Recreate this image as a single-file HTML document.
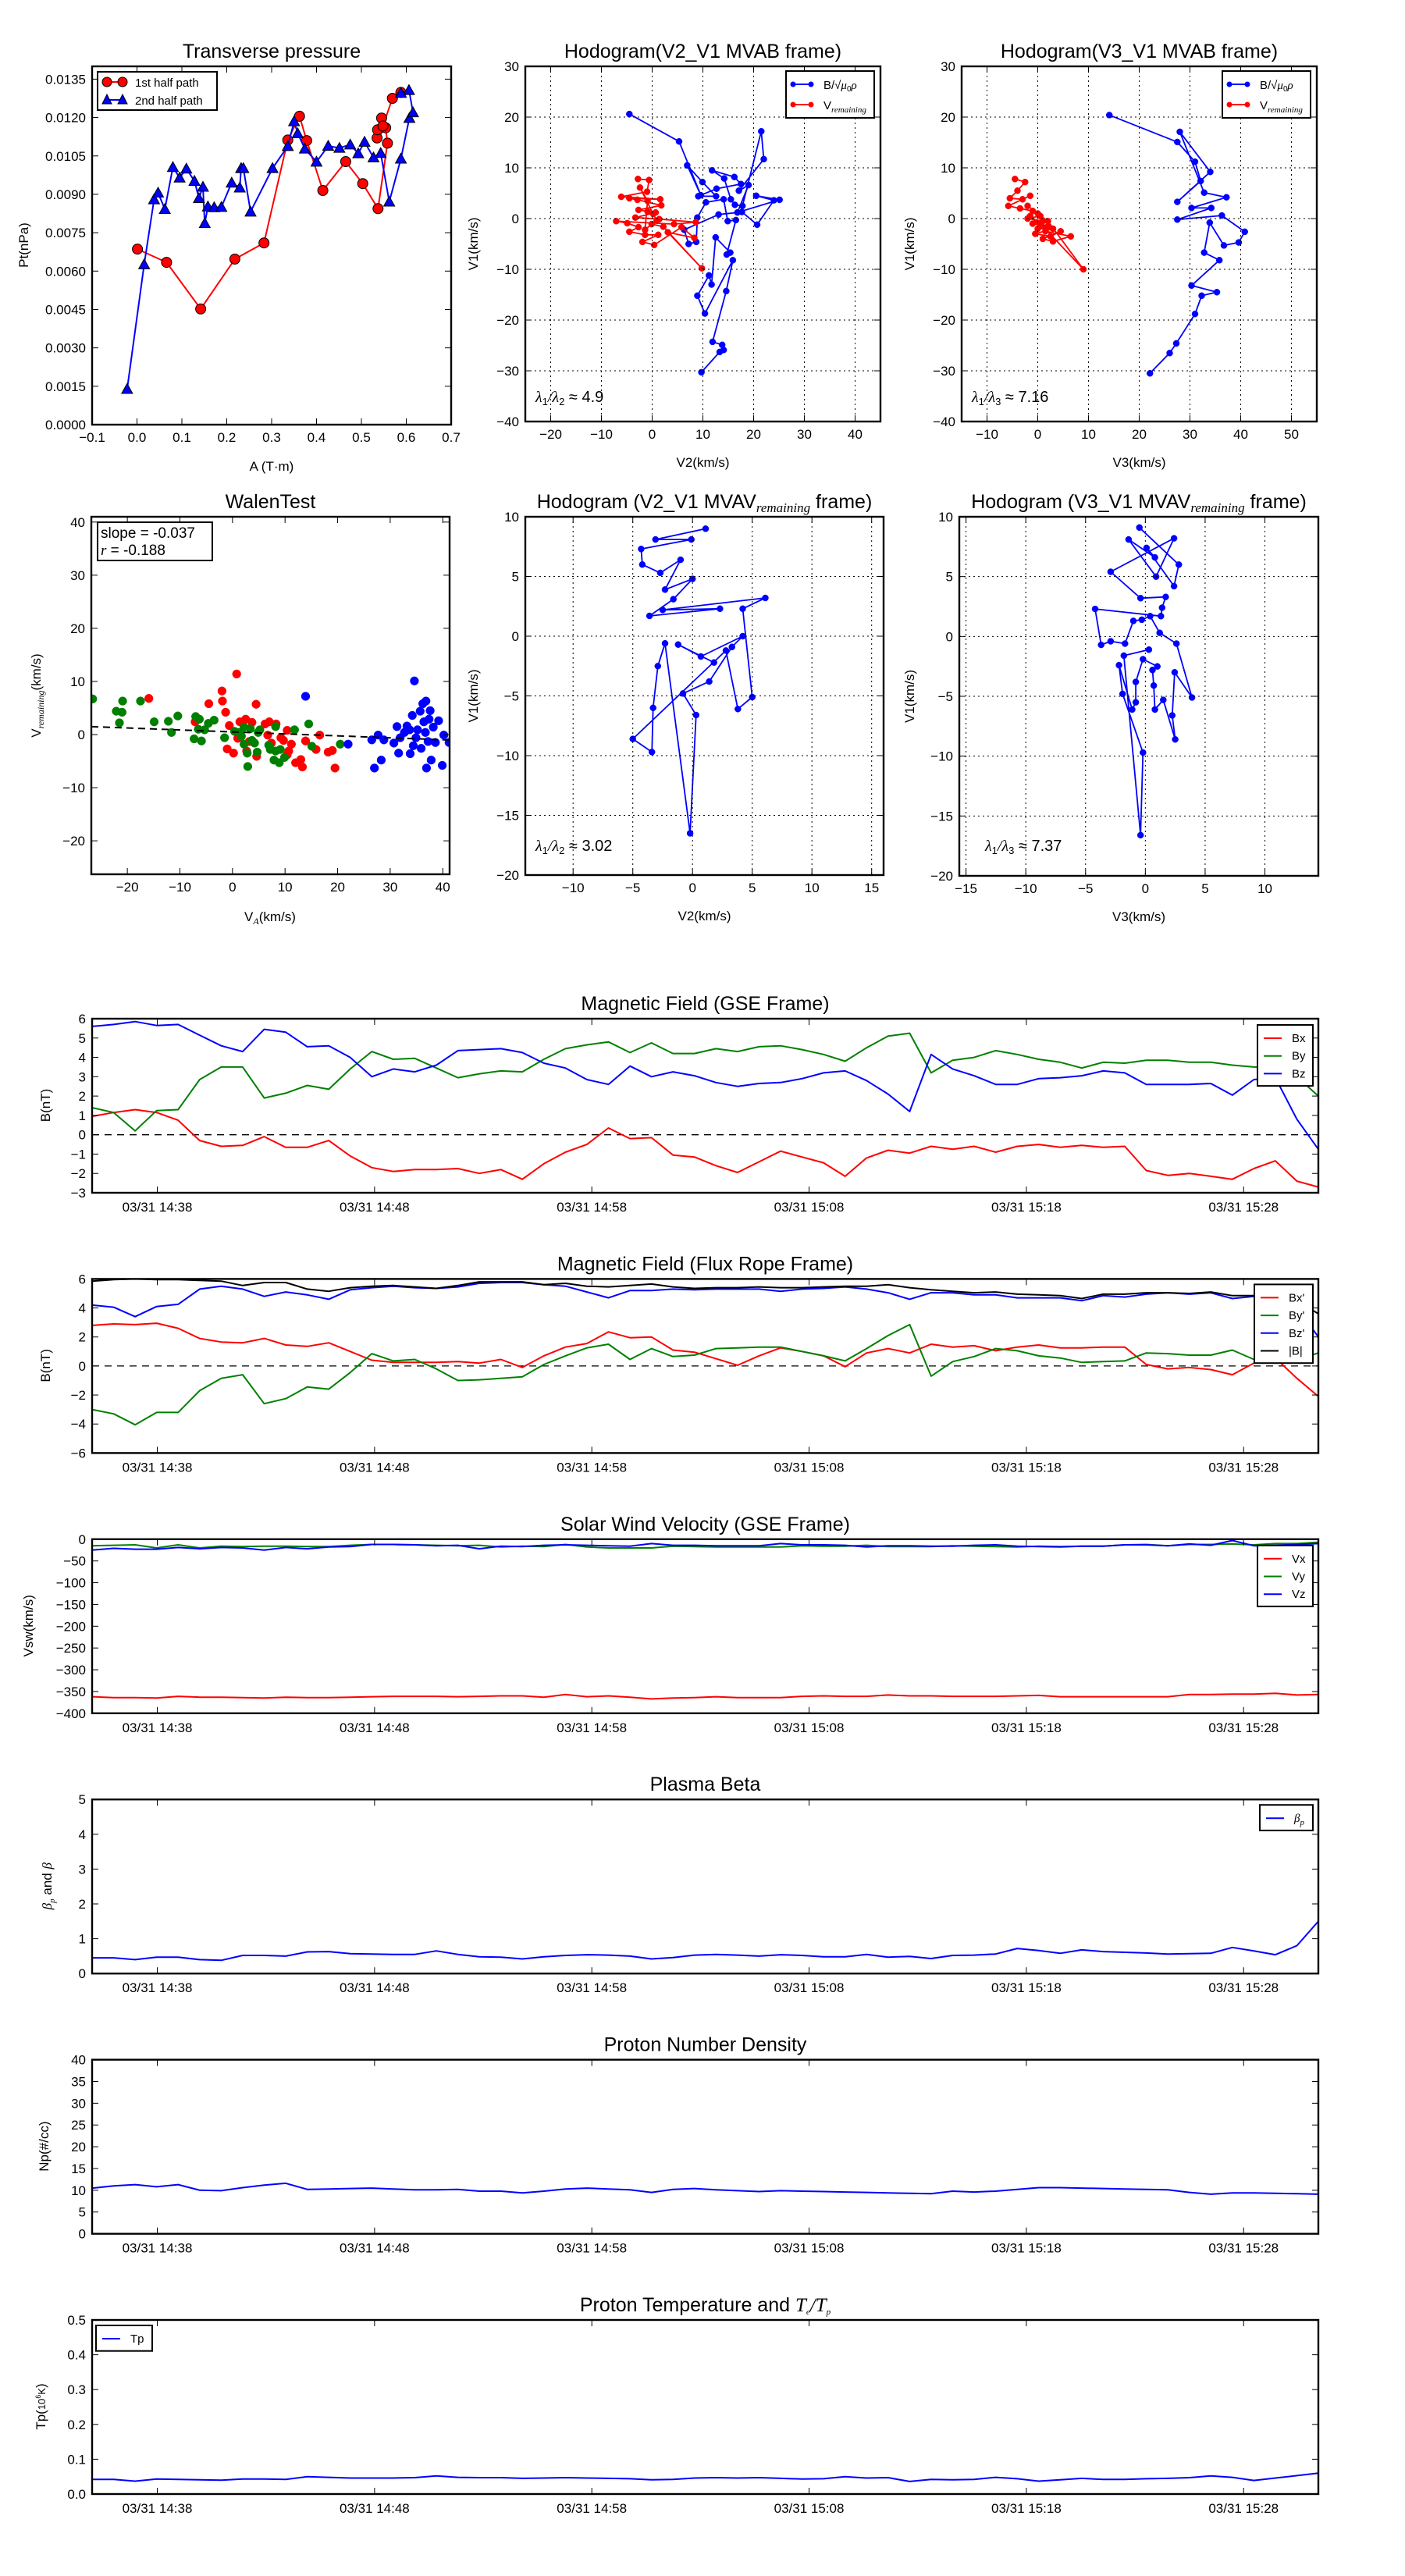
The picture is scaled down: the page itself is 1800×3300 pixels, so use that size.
<!DOCTYPE html>
<html><head><meta charset="utf-8"><title>Flux rope analysis</title>
<style>
html,body{margin:0;padding:0;background:#fff;}
svg{display:block;font-family:"Liberation Sans","DejaVu Sans",sans-serif;}
</style></head>
<body>
<svg id="fig" xmlns="http://www.w3.org/2000/svg" width="1800" height="3300" viewBox="0 0 1800 3300"><defs id="defs"></defs><rect x="0" y="0" width="1800" height="3300" fill="#fff"/></svg>
<script>
// ---------- Transverse pressure data ----------
const tp1A=[0.001,0.066,0.142,0.218,0.283,0.336,0.362,0.378,0.414,0.465,0.503,0.537,0.558,0.554,0.535,0.536,0.545,0.548,0.569,0.588];
const tp1P=[0.00686,0.00634,0.00452,0.00647,0.0071,0.01112,0.01205,0.0111,0.00915,0.01028,0.00942,0.00844,0.0110,0.0116,0.0112,0.01152,0.01198,0.01167,0.01275,0.01298];
const tp2A=[-0.022,0.016,0.038,0.047,0.062,0.080,0.095,0.110,0.128,0.138,0.147,0.151,0.158,0.172,0.188,0.211,0.229,0.232,0.237,0.253,0.302,0.336,0.350,0.358,0.374,0.400,0.426,0.451,0.475,0.493,0.507,0.527,0.543,0.562,0.588,0.607,0.615,0.606,0.588];
const tp2P=[0.00139,0.00626,0.0088,0.00906,0.00842,0.01006,0.00965,0.0100,0.00952,0.00885,0.00929,0.00787,0.00852,0.00849,0.0085,0.00945,0.00926,0.01002,0.01002,0.00832,0.01002,0.01088,0.01185,0.01138,0.01078,0.01027,0.01089,0.01081,0.01094,0.0106,0.01105,0.01044,0.01061,0.00871,0.01039,0.01198,0.0122,0.01307,0.01296];
const tpXTicks=[-0.1,0,0.1,0.2,0.3,0.4,0.5,0.6,0.7];
const tpYTicks=[0,0.0015,0.003,0.0045,0.006,0.0075,0.009,0.0105,0.012,0.0135];

// ---------- Hodogram MVAB (V2-V1) ----------
const h1BV2=[-4.5,5.3,9.6,6.9,9.9,12.6,9.1,12.7,17.5,16.2,11.8,14.2,15.5,16.3,17.8,21.5,22,17.1,19,16.8,25.1,20.5,24,20.7,17.7,13.1,6.3,7.2,8.7,8.9,10.6,14.1,14.9,16.5,14.7,15.4,12.5,11.7,11.2,8.9,10.4,15.9,14.6,11.9,13.8,14.1,13.3,9.7];
const h1BV1=[20.6,15.2,4.6,10.5,7.2,4.4,4.4,5.9,6.8,8.2,9.5,7.9,3.8,2.7,2.5,17.2,11.7,5.5,6.6,1.2,3.7,4.5,3.6,-1.2,1.3,0.8,-2.2,-5,-4.6,0.2,3.2,3.8,-0.5,-0.3,-7.1,-6.7,-3.7,-13,-11.2,-15.2,-18.7,-8.2,-14.3,-24.3,-24.9,-25.9,-26.3,-30.3];
const h1VV2=[-2.8,-0.6,-1,-6.1,1.6,-4.5,-2.9,1.8,-2.7,-0.9,0.7,-3.3,1.4,8.6,4.3,-7.1,-4.9,-2.7,-4.5,-1.4,1.2,-1.9,0.4,5.8,8.3,3.1,9.8,2.2,-0.1,-1.4,-0.9,-2.4,0.2,0.9];
const h1VV1=[7.8,7.6,5.3,4.3,3.8,4,3.7,2.6,1.7,1.4,1.2,0.2,-0.1,-0.7,-1.1,-0.5,-0.9,-1.7,-2.6,-3.2,-3.2,-4.6,-5.2,-1.7,-3.8,-2.7,-9.8,-1.6,-1.1,-2.2,3.5,6.1,0.9,-0.4];
const h1XTicks=[-20,-10,0,10,20,30,40];
const h1YTicks=[-40,-30,-20,-10,0,10,20,30];

// ---------- Hodogram MVAB (V3-V1) ----------
const h2BV3=[14.1,27.5,31,32.1,27.5,34,28,32.8,37.2,30.3,34.2,27.5,36.3,40.8,39.6,36.7,33.9,32.8,35.8,30.3,35.3,32.3,31,27.3,26,22.1];
const h2BV1=[20.4,15.1,11.2,7.4,3.3,9.2,17.1,5.1,4.2,2.1,2.1,-0.2,0.6,-2.6,-4.7,-5.3,-0.8,-6.7,-8.2,-13.2,-14.5,-15.2,-18.8,-24.6,-26.5,-30.5];
const h2VV3=[-4.5,-2.5,-4,-5.5,-3,-1.5,-5.8,-3.5,-1,0.5,-2,1,-1,2,0,3,-0.5,2.5,4.5,1,3,6.5,1.5,-1.5,0.5,9,2,-2,0,1.5];
const h2VV1=[7.8,7.2,5.5,4,3.8,4.5,2.5,2,1.5,0.5,0,-0.5,-1,-1.5,-2,-2,-3,-3.5,-2.5,-4,-4.5,-3.5,-2.5,0.5,-1,-10,-0.5,2.5,1,-1.8];
const h2XTicks=[-10,0,10,20,30,40,50];
const h2YTicks=[-40,-30,-20,-10,0,10,20,30];

// ---------- Walen test ----------
const wgVA=[-26.6,-22.1,-21,-20.9,-21.5,-17.5,-14.9,-12.2,-11.6,-10.4,-7.3,-7,-6.3,-5.9,-6.5,-5.3,-4.6,-3.5,-1.5,0.4,2.2,1.7,2.9,2.8,3.4,4.2,4.9,5.2,4.7,6.9,7.2,8.2,7.9,8.9,9.1,9.9,11.8,14.5,15.1,20.5,2.2,3.7,1.2,8.2];
const wgVR=[6.7,4.4,4.2,6.3,2.2,6.3,2.4,2.5,0.4,3.5,-0.8,3.4,2.9,-1.2,1,0.9,2.1,2.7,-0.6,0.6,1.4,-0.3,-6,-3.5,1.1,-1.6,0.4,0.9,-3.3,-2,-2.8,1.5,-4.8,-5.3,-2.8,-4.3,0.9,2,-2.2,-1.8,-1.8,-1.1,0.4,-3.1];
const wrVA=[-15.9,-7.1,-4.5,-2,-1.9,-1.3,0.8,-0.6,-1,0.2,1,1.4,2.5,3.7,4.5,6.2,7,8.3,6.7,7.4,9.2,10.4,9.7,11.2,10.7,10.4,4.6,2.7,12,13,13.3,13.9,15.9,16.6,18.2,19,19.5,3.2];
const wrVR=[6.8,2.4,5.8,8.2,6.3,4.2,11.4,1.7,-2.7,-3.5,-0.7,2.4,2.9,2.3,5.7,2,2.4,2,-0.1,-1.6,-0.6,0.8,-1.1,-1.8,-3.1,-3.8,-4.1,-3.1,-5.3,-4.7,-6.1,-1.2,-2.8,-0.1,-3.3,-3,-6.3,-1.3];
const wbVA=[13.9,22,26.5,27,27.7,28.3,28.8,30.7,31.3,31.6,31.9,32.7,33.2,33.8,34.2,34.6,34.4,35.2,35.7,35.9,36.2,36.8,36.4,36.9,37.2,37.6,37.8,37.4,38.2,38.6,39.2,39.9,40.2,41.2,34.9,33.7,36.7];
const wbVR=[7.2,-1.8,-1,-6.3,-0.1,-4.8,-1,-1.6,1.5,-3.5,-0.6,0.4,1.6,-3.6,3.6,10.1,-2.1,0.9,4.4,-2.6,5.8,6.3,2.4,-6.3,-1.3,4.5,-4.8,2.9,1.4,-1.5,2.6,-5.8,-0.1,-1.5,-0.6,0.9,0.4];
const walenSlope=-0.037, walenIntercept=0.5;
const wXTicks=[-20,-10,0,10,20,30,40];
const wYTicks=[-20,-10,0,10,20,30,40];

// ---------- Hodogram MVAV (V2-V1) ----------
const h3V2=[1.1,-3.1,-0.1,-4.3,-4.2,-2.7,-1,-2.3,0,-1.6,-3.6,2.3,-2.5,6.1,4.2,5,3.8,2.8,-5,-3.4,-3.3,-2.9,-2.3,-0.2,0.3,-0.8,1.4,3.3,4.2,0.7,-1.2,1.8];
const h3V1=[9,8.1,8.1,7.3,6,5.3,6.4,3.9,4.8,3.1,1.7,2.3,2.2,3.2,2.3,-5.1,-6.1,-1.2,-8.6,-9.7,-6,-2.5,-0.6,-16.5,-6.6,-4.8,-3.8,-0.9,0,-1.7,-0.7,-2.2];
const h3XTicks=[-10,-5,0,5,10,15];
const h3YTicks=[-20,-15,-10,-5,0,5,10];

// ---------- Hodogram MVAV (V3-V1) ----------
const h4V3=[-0.5,2.8,2.4,0.1,0.8,-1.4,0.9,2.4,-2.9,-0.4,1.7,1.4,1.3,-4.2,-3.7,-2.9,-1.7,-1,-0.3,0.4,1.2,2.6,3.9,2.45,2.25,2.5,1.5,0.8,0.7,0.6,1,-0.2,-0.8,-0.8,-1.1,-2.2,-1.9,-0.2,-0.4,-1.8,0.3];
const h4V1=[9.1,6,4.2,7.4,6.6,8.1,5,8.2,5.4,3.2,3.3,2.4,1.7,2.3,-0.7,-0.4,-0.6,1.3,1.4,1.7,0.3,-0.6,-5.1,-3,-6.6,-8.6,-5.3,-6.1,-4.1,-2.8,-2.5,-1.9,-3.8,-5.5,-6.1,-2.4,-4.8,-9.7,-16.6,-1.6,-1.1];
const h4XTicks=[-15,-10,-5,0,5,10];
const h4YTicks=[-20,-15,-10,-5,0,5,10];

// ---------- Time series (1-min cadence from 14:35) ----------
const tsCadence=0.9902;
const tsTickMinutes=[3,13,23,33,43,53];
const tsTickLabels=['03/31 14:38','03/31 14:48','03/31 14:58','03/31 15:08','03/31 15:18','03/31 15:28'];
const gseBx=[0.95,1.15,1.3,1.15,0.75,-0.3,-0.6,-0.55,-0.1,-0.65,-0.65,-0.3,-1.1,-1.7,-1.9,-1.8,-1.8,-1.75,-2.0,-1.8,-2.3,-1.5,-0.9,-0.5,0.35,-0.2,-0.15,-1.05,-1.15,-1.6,-1.95,-1.4,-0.85,-1.15,-1.45,-2.15,-1.2,-0.8,-0.95,-0.6,-0.75,-0.6,-0.9,-0.6,-0.5,-0.65,-0.55,-0.65,-0.6,-1.85,-2.1,-2.0,-2.15,-2.3,-1.75,-1.35,-2.4,-2.7];
const gseBy=[1.4,1.15,0.2,1.25,1.3,2.85,3.5,3.5,1.9,2.15,2.55,2.35,3.4,4.3,3.9,3.95,3.45,2.95,3.15,3.3,3.25,3.9,4.45,4.65,4.8,4.25,4.75,4.2,4.2,4.45,4.3,4.55,4.6,4.4,4.15,3.8,4.5,5.1,5.25,3.2,3.85,4.0,4.35,4.15,3.9,3.75,3.45,3.75,3.7,3.85,3.85,3.75,3.75,3.6,3.5,3.5,3.0,2.0];
const gseBz=[5.6,5.7,5.85,5.65,5.7,5.15,4.6,4.3,5.45,5.3,4.55,4.6,4.0,3.0,3.4,3.25,3.6,4.35,4.4,4.45,4.25,3.7,3.45,2.85,2.6,3.55,3.0,3.25,3.05,2.7,2.5,2.65,2.7,2.9,3.2,3.3,2.8,2.1,1.2,4.15,3.4,3.05,2.6,2.6,2.9,2.95,3.05,3.3,3.2,2.6,2.6,2.6,2.65,2.05,2.85,2.95,0.8,-0.75];
const frBx=[2.8,2.9,2.85,2.95,2.6,1.9,1.65,1.6,1.9,1.45,1.35,1.6,1.0,0.4,0.25,0.25,0.25,0.3,0.2,0.45,-0.1,0.7,1.3,1.55,2.35,1.95,2.0,1.1,0.95,0.5,0.05,0.7,1.25,1.0,0.7,-0.05,0.9,1.2,0.9,1.5,1.3,1.4,1.05,1.3,1.45,1.25,1.25,1.3,1.3,0.1,-0.2,-0.1,-0.25,-0.6,0.2,0.55,-0.85,-2.1];
const frBy=[-3.0,-3.3,-4.05,-3.2,-3.2,-1.7,-0.85,-0.6,-2.6,-2.25,-1.45,-1.6,-0.45,0.85,0.35,0.45,-0.2,-1.0,-0.95,-0.85,-0.75,0.1,0.7,1.25,1.5,0.45,1.2,0.65,0.75,1.2,1.25,1.3,1.3,1.0,0.7,0.35,1.2,2.1,2.85,-0.7,0.3,0.65,1.2,1.05,0.7,0.55,0.25,0.3,0.35,0.9,0.85,0.75,0.75,1.1,0.45,0.5,0.4,0.9];
const frBz=[4.2,4.05,3.4,4.1,4.25,5.3,5.5,5.3,4.8,5.1,4.9,4.6,5.25,5.4,5.5,5.4,5.35,5.45,5.7,5.75,5.75,5.6,5.5,5.1,4.7,5.2,5.2,5.3,5.25,5.3,5.3,5.3,5.15,5.3,5.35,5.45,5.3,5.05,4.6,5.05,5.05,4.9,4.9,4.7,4.7,4.7,4.5,4.85,4.75,4.95,5.05,4.95,5.05,4.65,4.8,4.85,4.0,2.0];
const frBt=[5.85,5.95,6.0,5.95,5.95,5.9,5.85,5.55,5.75,5.75,5.3,5.15,5.4,5.5,5.55,5.45,5.35,5.55,5.8,5.8,5.8,5.6,5.7,5.5,5.45,5.55,5.65,5.45,5.35,5.4,5.4,5.45,5.4,5.4,5.45,5.5,5.5,5.6,5.4,5.25,5.15,5.05,5.1,4.95,4.9,4.85,4.65,4.95,4.95,5.05,5.05,5.0,5.1,4.85,4.85,4.9,4.5,3.6];
const swVx=[-362,-364,-364,-365,-361,-363,-363,-364,-365,-363,-364,-364,-363,-362,-361,-361,-361,-362,-361,-360,-360,-363,-357,-362,-360,-363,-367,-365,-364,-362,-364,-364,-364,-361,-360,-361,-361,-358,-360,-360,-361,-361,-361,-360,-359,-362,-362,-362,-362,-362,-362,-357,-357,-356,-356,-354,-358,-357];
const swVy=[-15,-14,-13,-20,-13,-20,-16,-17,-16,-16,-17,-17,-14,-12,-12,-13,-14,-15,-14,-18,-16,-17,-12,-18,-20,-20,-20,-16,-17,-18,-18,-18,-18,-15,-16,-16,-14,-17,-17,-17,-15,-16,-17,-18,-16,-17,-16,-16,-13,-12,-15,-12,-12,-11,-13,-10,-10,-7];
const swVz=[-25,-21,-23,-23,-19,-22,-19,-20,-25,-19,-22,-18,-17,-12,-12,-13,-15,-14,-22,-16,-17,-14,-13,-14,-15,-16,-10,-14,-14,-15,-15,-15,-10,-13,-13,-14,-18,-15,-15,-16,-16,-14,-13,-16,-17,-18,-16,-16,-13,-13,-15,-11,-14,-3,-15,-14,-12,-10];
const betaP=[0.45,0.45,0.4,0.47,0.47,0.4,0.38,0.52,0.52,0.5,0.62,0.63,0.57,0.56,0.55,0.55,0.65,0.55,0.48,0.47,0.42,0.48,0.52,0.54,0.53,0.5,0.42,0.46,0.53,0.55,0.53,0.5,0.54,0.52,0.48,0.48,0.55,0.47,0.49,0.43,0.52,0.53,0.56,0.72,0.66,0.58,0.68,0.63,0.61,0.59,0.56,0.57,0.58,0.75,0.65,0.54,0.8,1.5];
const densNp=[10.5,11,11.3,10.8,11.3,10,9.9,10.6,11.2,11.6,10.2,10.3,10.4,10.5,10.3,10.1,10.1,10.2,9.8,9.8,9.4,9.8,10.3,10.5,10.3,10.1,9.5,10.2,10.4,10.1,9.9,9.7,9.9,9.8,9.7,9.6,9.5,9.4,9.3,9.2,9.8,9.6,9.8,10.2,10.6,10.6,10.5,10.4,10.3,10.2,10.1,9.5,9.1,9.4,9.4,9.3,9.2,9.1];
const tempTp=[0.042,0.042,0.037,0.043,0.042,0.041,0.040,0.043,0.043,0.042,0.050,0.048,0.046,0.046,0.046,0.047,0.052,0.048,0.047,0.047,0.045,0.046,0.047,0.046,0.045,0.044,0.041,0.042,0.046,0.047,0.046,0.047,0.045,0.043,0.044,0.050,0.046,0.047,0.036,0.042,0.041,0.042,0.048,0.044,0.037,0.041,0.045,0.042,0.042,0.044,0.045,0.047,0.052,0.048,0.039,0.046,0.053,0.060];

// ---------- helpers ----------
const NS='http://www.w3.org/2000/svg';
const svg=document.getElementById('fig');
const defs=document.getElementById('defs');
function mk(tag,attrs,parent){const e=document.createElementNS(NS,tag);for(const k in attrs)e.setAttribute(k,attrs[k]);(parent||svg).appendChild(e);return e;}
function label(parent,x,y,str,size,anchor,rot){
  const t=mk('text',{x:x,y:y,'font-size':size,'text-anchor':anchor||'middle',fill:'#000'},parent);
  if(rot) t.setAttribute('transform','rotate(-90 '+x+' '+y+')');
  t.textContent=str;return t;
}
function tsp(t,str,opts){const s=mk('tspan',opts||{},t);s.textContent=str;return s;}
function fmt(v,d){return (v<0?'\u2212':'')+Math.abs(v).toFixed(d);}

function makeAxes(name,x0,y0,w,h,xd,yd){
  const g=mk('g',{});
  
  
  const cp=mk('clipPath',{id:name+'-clip'},defs);
  mk('rect',{x:x0,y:y0,width:w,height:h},cp);
  const plot=mk('g',{'clip-path':'url(#'+name+'-clip)'},g);
  
  
  return {g:g,plot:plot,x0:x0,y0:y0,w:w,h:h,
    sx:v=>x0+(v-xd[0])/(xd[1]-xd[0])*w,
    sy:v=>y0+h-(v-yd[0])/(yd[1]-yd[0])*h};
}
function frame(ax){
  const r=mk('rect',{x:ax.x0,y:ax.y0,width:ax.w,height:ax.h,fill:'none',stroke:'#000','stroke-width':2.4},ax.g);
  
  
}
function xTicks(ax,vals,labels,grid,ly){
  vals.forEach((v,i)=>{
    const x=ax.sx(v);
    if(grid){const gl=mk('line',{x1:x,x2:x,y1:ax.y0,y2:ax.y0+ax.h,stroke:'#000','stroke-width':1,'stroke-dasharray':'2,4'},ax.g);
      
      }
    mk('line',{x1:x,x2:x,y1:ax.y0+ax.h,y2:ax.y0+ax.h-8,stroke:'#000','stroke-width':1},ax.g);
    mk('line',{x1:x,x2:x,y1:ax.y0,y2:ax.y0+8,stroke:'#000','stroke-width':1},ax.g);
    const t=label(ax.g,x,ax.y0+ax.h+(ly||23),labels[i],17);
    
    
  });
}
function yTicks(ax,vals,labels,grid){
  vals.forEach((v,i)=>{
    const y=ax.sy(v);
    if(grid){const gl=mk('line',{x1:ax.x0,x2:ax.x0+ax.w,y1:y,y2:y,stroke:'#000','stroke-width':1,'stroke-dasharray':'2,4'},ax.g);
      
      }
    mk('line',{x1:ax.x0,x2:ax.x0+8,y1:y,y2:y,stroke:'#000','stroke-width':1},ax.g);
    mk('line',{x1:ax.x0+ax.w,x2:ax.x0+ax.w-8,y1:y,y2:y,stroke:'#000','stroke-width':1},ax.g);
    const t=label(ax.g,ax.x0-8,y+6,labels[i],17,'end');
    
    
  });
}
function polyline(ax,xs,ys,color,w,name){
  const d=xs.map((x,i)=>(i?'L':'M')+ax.sx(x).toFixed(1)+' '+ax.sy(ys[i]).toFixed(1)).join('');
  const p=mk('path',{d:d,fill:'none',stroke:color,'stroke-width':w,'stroke-linejoin':'round'},ax.plot);
  
  
  return p;
}
function dots(ax,xs,ys,color,r,name,edge){
  xs.forEach((x,i)=>{
    const c=mk('circle',{cx:ax.sx(x).toFixed(1),cy:ax.sy(ys[i]).toFixed(1),r:r,fill:color,stroke:edge||color,'stroke-width':edge?1:0.5},ax.plot);
    
    
  });
}
function tris(ax,xs,ys,color,s,name){
  xs.forEach((x,i)=>{
    const cx=ax.sx(x),cy=ax.sy(ys[i]);
    const p=mk('polygon',{points:[cx,cy-s,cx-s,cy+s*0.8,cx+s,cy+s*0.8].join(' '),fill:color,stroke:'#000','stroke-width':1},ax.plot);
    
    
  });
}
function title(x,y,parts,size){
  const t=mk('text',{x:x,y:y,'font-size':size||25,'text-anchor':'middle',fill:'#000'});
  parts.forEach(p=>{ if(typeof p==='string') tsp(t,p); else tsp(t,p.s,p.o);});
  
  
  return t;
}
const SUB={'font-family':'"Liberation Serif",serif','font-style':'italic','font-size':'15','baseline-shift':'-4'};
function lambdaText(ax,x,y,n,val){
  const t=mk('text',{x:x,y:y,'font-size':20,fill:'#000'},ax.g);
  tsp(t,'\u03bb',{'font-family':'"Liberation Serif",serif','font-style':'italic'});
  tsp(t,'1',{'font-size':13,'baseline-shift':'-4'});
  tsp(t,'/\u03bb',{'font-family':'"Liberation Serif",serif','font-style':'italic'});
  tsp(t,n,{'font-size':13,'baseline-shift':'-4'});
  tsp(t,' \u2248 '+val);
  
  
}
function legendBox(parent,x,y,w,h){
  const r=mk('rect',{x:x,y:y,width:w,height:h,fill:'#fff',stroke:'#000','stroke-width':2},parent);
  
  
}

// =========== Row 1: Transverse pressure ===========
(function(){
  const ax=makeAxes('transverse-pressure-chart',118,85,460,459,[-0.1,0.7],[0,0.014]);
  xTicks(ax,tpXTicks,tpXTicks.map(v=>fmt(v,1)),false,22);
  yTicks(ax,tpYTicks,tpYTicks.map(v=>v.toFixed(4)),false);
  polyline(ax,tp1A,tp1P,'#ff0000',2,'first-half-path-line');
  dots(ax,tp1A,tp1P,'#ff0000',6.5,'first-half-point','#000');
  polyline(ax,tp2A,tp2P,'#0000ff',2,'second-half-path-line');
  tris(ax,tp2A,tp2P,'#0000ff',7,'second-half-point');
  frame(ax);
  legendBox(ax.g,125,92,153,49);
  const l1=mk('line',{x1:137,x2:157,y1:105,y2:105,stroke:'#ff0000','stroke-width':2},ax.g);
  
  
  [137,157].forEach(cx=>{const c=mk('circle',{cx:cx,cy:105,r:6,fill:'#ff0000',stroke:'#000'},ax.g);
    
    });
  const l2=mk('line',{x1:137,x2:157,y1:128,y2:128,stroke:'#0000ff','stroke-width':2},ax.g);
  
  
  [137,157].forEach(cx=>{const p=mk('polygon',{points:[cx,121,cx-6,133,cx+6,133].join(' '),fill:'#0000ff',stroke:'#000'},ax.g);
    
    });
  const t1=label(ax.g,173,111,'1st half path',15,'start');
  
  
  const t2=label(ax.g,173,134,'2nd half path',15,'start');
  
  
  title(348,74,['Transverse pressure']);
  const xl=label(ax.g,348,603,'A (T\u00b7m)',17);
  
  
  const yl=label(ax.g,36,314,'Pt(nPa)',17,'middle',true);
  
  
})();

function hodoLegend(ax,x,y){
  legendBox(ax.g,x,y,113,60);
  [['#0000ff',y+17],['#ff0000',y+43]].forEach(a=>{
    const l=mk('line',{x1:x+9,x2:x+32,y1:a[1],y2:a[1],stroke:a[0],'stroke-width':2},ax.g);
    
    
    [x+9,x+32].forEach(cx=>{const c=mk('circle',{cx:cx,cy:a[1],r:3.5,fill:a[0]},ax.g);
      
      });
  });
  const t1=mk('text',{x:x+48,y:y+23,'font-size':15,fill:'#000'},ax.g);
  tsp(t1,'B/\u221a');tsp(t1,'\u03bc',{'font-family':'"Liberation Serif",serif','font-style':'italic'});
  tsp(t1,'0',{'font-size':10,'baseline-shift':'-3'});tsp(t1,'\u03c1',{'font-family':'"Liberation Serif",serif','font-style':'italic'});
  
  
  const t2=mk('text',{x:x+48,y:y+49,'font-size':15,fill:'#000'},ax.g);
  tsp(t2,'V');tsp(t2,'remaining',{'font-family':'"Liberation Serif",serif','font-style':'italic','font-size':11,'baseline-shift':'-4'});
  
  
}
function hodoAxes(name,x0,y0,w,h,xd,yd,xt,yt,xlab,ttl,lam){
  const ax=makeAxes(name,x0,y0,w,h,xd,yd);
  xTicks(ax,xt,xt.map(v=>fmt(v,0)),true,22);
  yTicks(ax,yt,yt.map(v=>fmt(v,0)),true);
  return ax;
}
function axisTitles(ax,xlab,ylabX){
  const xl=label(ax.g,ax.x0+ax.w/2,ax.y0+ax.h+58,xlab,17);
  
  
  const yl=label(ax.g,ylabX,ax.y0+ax.h/2,'V1(km/s)',17,'middle',true);
  
  
}

// =========== Hodogram MVAB V2-V1 ===========
(function(){
  const ax=hodoAxes('hodogram-v2-v1-mvab',673,85,455,455,[-25,45],[-40,30],h1XTicks,h1YTicks);
  polyline(ax,h1BV2,h1BV1,'#0000ff',1.8,'b-alfven-path');
  dots(ax,h1BV2,h1BV1,'#0000ff',4,'b-alfven-point');
  polyline(ax,h1VV2,h1VV1,'#ff0000',1.8,'v-remaining-path');
  dots(ax,h1VV2,h1VV1,'#ff0000',4,'v-remaining-point');
  frame(ax);
  hodoLegend(ax,1007,91);
  lambdaText(ax,686,515,'2','4.9');
  title(900.5,74,['Hodogram(V2_V1 MVAB frame)']);
  axisTitles(ax,'V2(km/s)',612);
})();
// =========== Hodogram MVAB V3-V1 ===========
(function(){
  const ax=hodoAxes('hodogram-v3-v1-mvab',1232,85,455,455,[-15,55],[-40,30],h2XTicks,h2YTicks);
  polyline(ax,h2BV3,h2BV1,'#0000ff',1.8,'b-alfven-path');
  dots(ax,h2BV3,h2BV1,'#0000ff',4,'b-alfven-point');
  polyline(ax,h2VV3,h2VV1,'#ff0000',1.8,'v-remaining-path');
  dots(ax,h2VV3,h2VV1,'#ff0000',4,'v-remaining-point');
  frame(ax);
  hodoLegend(ax,1566,91);
  lambdaText(ax,1245,515,'3','7.16');
  title(1459.5,74,['Hodogram(V3_V1 MVAB frame)']);
  axisTitles(ax,'V3(km/s)',1171);
})();

// =========== Walen test ===========
(function(){
  const ax=makeAxes('walen-test-chart',117,662,459,458,[-26.85,41.3],[-26.3,41]);
  xTicks(ax,wXTicks,wXTicks.map(v=>fmt(v,0)),false,22);
  yTicks(ax,wYTicks,wYTicks.map(v=>fmt(v,0)),false);
  dots(ax,wrVA,wrVR,'#ff0000',5.4,'walen-point-red');
  dots(ax,wgVA,wgVR,'#008000',5.4,'walen-point-green');
  dots(ax,wbVA,wbVR,'#0000ff',5.4,'walen-point-blue');
  const xa=[-26.85,41.3];
  const fit=mk('line',{x1:ax.sx(xa[0]),x2:ax.sx(xa[1]),y1:ax.sy(walenSlope*xa[0]+walenIntercept),y2:ax.sy(walenSlope*xa[1]+walenIntercept),stroke:'#000','stroke-width':2,'stroke-dasharray':'9,6'},ax.plot);
  
  
  frame(ax);
  legendBox(ax.g,125,669,147,49);
  const s1=label(ax.g,129,689,'slope = -0.037',19,'start');
  
  
  const s2=mk('text',{x:129,y:711,'font-size':19,fill:'#000'},ax.g);
  tsp(s2,'r',{'font-family':'"Liberation Serif",serif','font-style':'italic'});tsp(s2,' = -0.188');
  
  
  title(346.5,651,['WalenTest']);
  const xl=mk('text',{x:346,y:1180,'font-size':17,'text-anchor':'middle',fill:'#000'},ax.g);
  tsp(xl,'V');tsp(xl,'A',{'font-family':'"Liberation Serif",serif','font-style':'italic','font-size':12,'baseline-shift':'-4'});tsp(xl,'(km/s)');
  
  
  const yl=mk('text',{x:52,y:891,'font-size':17,'text-anchor':'middle',fill:'#000',transform:'rotate(-90 52 891)'},ax.g);
  tsp(yl,'V');tsp(yl,'remaining',{'font-family':'"Liberation Serif",serif','font-style':'italic','font-size':12,'baseline-shift':'-4'});tsp(yl,'(km/s)');
  
  
})();

// =========== Hodogram MVAV V2-V1 ===========
(function(){
  const ax=hodoAxes('hodogram-v2-v1-mvav',673,662,459,459,[-14,16],[-20,10],h3XTicks,h3YTicks);
  polyline(ax,h3V2,h3V1,'#0000ff',1.8,'velocity-path');
  dots(ax,h3V2,h3V1,'#0000ff',4,'velocity-point');
  frame(ax);
  lambdaText(ax,686,1090,'2','3.02');
  title(902.5,651,['Hodogram (V2_V1 MVAV',{s:'remaining',o:{'font-family':'"Liberation Serif",serif','font-style':'italic','font-size':17,'baseline-shift':'-5'}},' frame)']);
  axisTitles(ax,'V2(km/s)',612);
})();
// =========== Hodogram MVAV V3-V1 ===========
(function(){
  const ax=hodoAxes('hodogram-v3-v1-mvav',1229,662,460,460,[-15.56,14.47],[-20,10],h4XTicks,h4YTicks);
  polyline(ax,h4V3,h4V1,'#0000ff',1.8,'velocity-path');
  dots(ax,h4V3,h4V1,'#0000ff',4,'velocity-point');
  frame(ax);
  lambdaText(ax,1262,1090,'3','7.37');
  title(1459,651,['Hodogram (V3_V1 MVAV',{s:'remaining',o:{'font-family':'"Liberation Serif",serif','font-style':'italic','font-size':17,'baseline-shift':'-5'}},' frame)']);
  axisTitles(ax,'V3(km/s)',1171);
})();

// =========== Time series panels ===========
function tsPanel(idx,name,titleParts,yd,yt,ylabs,ylabelParts,ylabX,series,leg,zero){
  const top=1305+333.4*idx;
  const ax=makeAxes(name,118,top,1571,223,[0,56.44],yd);
  xTicks(ax,tsTickMinutes,tsTickLabels,false,24);
  yTicks(ax,yt,ylabs,false);
  if(zero){const z=mk('line',{x1:ax.x0,x2:ax.x0+ax.w,y1:ax.sy(0),y2:ax.sy(0),stroke:'#000','stroke-width':1.3,'stroke-dasharray':'9,7'},ax.plot);
    
    }
  series.forEach(s=>{
    const xs=s.v.map((_,i)=>i*tsCadence);
    polyline(ax,xs,s.v,s.c,2,s.n);
  });
  frame(ax);
  legendBox(ax.g,leg[0],top+leg[1],leg[2],series.length*22.7+10);
  series.forEach((s,i)=>{
    const y=top+leg[1]+17+i*22.7;
    const l=mk('line',{x1:leg[0]+8,x2:leg[0]+31,y1:y,y2:y,stroke:s.c,'stroke-width':2},ax.g);
    
    
    const t=mk('text',{x:leg[0]+44,y:y+5,'font-size':15,fill:'#000'},ax.g);
    s.l.forEach(p=>{ if(typeof p==='string') tsp(t,p); else tsp(t,p.s,p.o);});
    
    
  });
  title(903.5,top-11,titleParts);
  const yl=mk('text',{x:ylabX,y:top+111,'font-size':17,'text-anchor':'middle',fill:'#000',transform:'rotate(-90 '+ylabX+' '+(top+111)+')'},ax.g);
  ylabelParts.forEach(p=>{ if(typeof p==='string') tsp(yl,p); else tsp(yl,p.s,p.o);});
  
  
}
const it={'font-family':'"Liberation Serif",serif','font-style':'italic'};
const itSub={'font-family':'"Liberation Serif",serif','font-style':'italic','font-size':11,'baseline-shift':'-4'};
const gseYT=[-3,-2,-1,0,1,2,3,4,5,6];
tsPanel(0,'magnetic-field-gse-chart',['Magnetic Field (GSE Frame)'],[-3,6],gseYT,gseYT.map(v=>fmt(v,0)),['B(nT)'],64,
  [{v:gseBx,c:'#ff0000',n:'bx',l:['Bx']},{v:gseBy,c:'#008000',n:'by',l:['By']},{v:gseBz,c:'#0000ff',n:'bz',l:['Bz']}],[1611,8,71],true);
const frYT=[-6,-4,-2,0,2,4,6];
tsPanel(1,'magnetic-field-flux-rope-chart',['Magnetic Field (Flux Rope Frame)'],[-6,6],frYT,frYT.map(v=>fmt(v,0)),['B(nT)'],64,
  [{v:frBx,c:'#ff0000',n:'bx-prime',l:["Bx'"]},{v:frBy,c:'#008000',n:'by-prime',l:["By'"]},{v:frBz,c:'#0000ff',n:'bz-prime',l:["Bz'"]},{v:frBt,c:'#000000',n:'b-total',l:['|B|']}],[1607,7,75],true);
const swYT=[-400,-350,-300,-250,-200,-150,-100,-50,0];
tsPanel(2,'solar-wind-velocity-chart',['Solar Wind Velocity (GSE Frame)'],[-400,0],swYT,swYT.map(v=>fmt(v,0)),['Vsw(km/s)'],42,
  [{v:swVx,c:'#ff0000',n:'vx',l:['Vx']},{v:swVy,c:'#008000',n:'vy',l:['Vy']},{v:swVz,c:'#0000ff',n:'vz',l:['Vz']}],[1611,8,71],false);
const bYT=[0,1,2,3,4,5];
tsPanel(3,'plasma-beta-chart',['Plasma Beta'],[0,5],bYT,bYT.map(v=>fmt(v,0)),[{s:'\u03b2',o:it},{s:'p',o:itSub},' and ',{s:'\u03b2',o:it}],66,
  [{v:betaP,c:'#0000ff',n:'beta-p',l:[{s:'\u03b2',o:it},{s:'p',o:itSub}]}],[1614,7,68],false);
const nYT=[0,5,10,15,20,25,30,35,40];
tsPanel(4,'proton-density-chart',['Proton Number Density'],[0,40],nYT,nYT.map(v=>fmt(v,0)),['Np(#/cc)'],62,
  [{v:densNp,c:'#0000ff',n:'np',l:['Np']}],[-9999,0,0],false);
const tYT=[0,0.1,0.2,0.3,0.4,0.5];
tsPanel(5,'proton-temperature-chart',['Proton Temperature and ',{s:'T',o:it},{s:'e',o:itSub},{s:'/',o:it},{s:'T',o:it},{s:'p',o:itSub}],[0,0.5],tYT,tYT.map(v=>v.toFixed(1)),['Tp(',{s:'10',o:{'font-size':13}},{s:'6',o:{'font-size':9,'baseline-shift':'6'}},{s:'K',o:{'font-size':13}},')'],58,
  [{v:tempTp,c:'#0000ff',n:'tp',l:['Tp']}],[123,7,72],false);
</script>
</body></html>
